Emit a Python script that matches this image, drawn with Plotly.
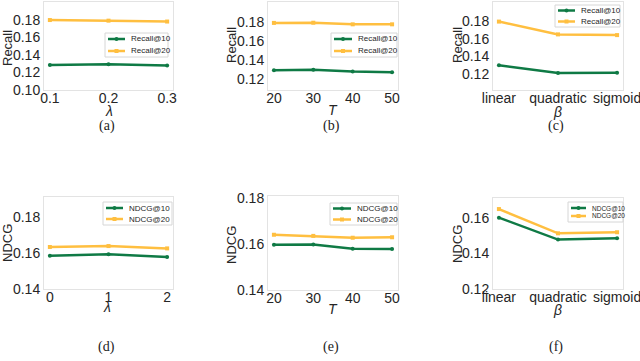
import plotly.graph_objects as go

# data
lam_a = [0.1, 0.2, 0.3]
recall10_a = [0.1285, 0.1292, 0.1277]
recall20_a = [0.1795, 0.1788, 0.1778]

T_vals = [20, 30, 40, 50]
recall10_b = [0.1292, 0.1298, 0.1278, 0.1272]
recall20_b = [0.1790, 0.1792, 0.1775, 0.1775]

beta_cats = ["linear", "quadratic", "sigmoid"]
recall10_c = [0.1300, 0.1212, 0.1215]
recall20_c = [0.1795, 0.1650, 0.1642]

lam_d = [0, 1, 2]
ndcg10_d = [0.1585, 0.1593, 0.1577]
ndcg20_d = [0.1633, 0.1638, 0.1625]

ndcg10_e = [0.1597, 0.1598, 0.1580, 0.1579]
ndcg20_e = [0.1641, 0.1636, 0.1628, 0.1630]

ndcg10_f = [0.1600, 0.1477, 0.1485]
ndcg20_f = [0.1648, 0.1512, 0.1518]

GREEN = "#0f7a45"
ORANGE = "#ffbf40"
W, H = 640, 361

def px_x(p):
    return p / W

def px_y(p):
    return 1 - p / H

# panel boxes in pixels: (x0, x1, ytop, ybottom)
panels = [
    (44, 173, 2, 90), (268, 398, 2, 90), (493, 623, 2, 90),
    (44, 173, 197, 289), (268, 398, 196, 290), (493, 623, 198, 289),
]
yranges = [[0.10, 0.20], [0.1084, 0.201], [0.102, 0.2017],
           [0.14, 0.191], [0.14, 0.181], [0.12, 0.171]]
ytickvals = [[0.10, 0.12, 0.14, 0.16, 0.18], [0.12, 0.14, 0.16, 0.18],
             [0.12, 0.14, 0.16, 0.18], [0.14, 0.16, 0.18],
             [0.14, 0.16, 0.18], [0.12, 0.14, 0.16]]
xranges = [[0.09, 0.31], [18.5, 51.5], [-0.1, 2.1], [-0.1, 2.1], [18.5, 51.5], [-0.1, 2.1]]
xtitles = ["λ", "T", "β", "λ", "T", "β"]
ytitles = ["Recall", "Recall", "Recall", "NDCG", "NDCG", "NDCG"]
captions = ["(a)", "(b)", "(c)", "(d)", "(e)", "(f)"]

series = [
    (lam_a, recall10_a, recall20_a, "Recall@10", "Recall@20"),
    (T_vals, recall10_b, recall20_b, "Recall@10", "Recall@20"),
    ([0, 1, 2], recall10_c, recall20_c, "Recall@10", "Recall@20"),
    (lam_d, ndcg10_d, ndcg20_d, "NDCG@10", "NDCG@20"),
    (T_vals, ndcg10_e, ndcg20_e, "NDCG@10", "NDCG@20"),
    ([0, 1, 2], ndcg10_f, ndcg20_f, "NDCG@10", "NDCG@20"),
]

# title positions in pixels: x title (cx, cy), y title (cx, cy)
xtitle_pos = [(109, 111), (333, 110), (557, 112), (107, 307), (333, 309), (557, 310)]
ytitle_pos = [(7, 48), (231, 45), (457, 45), (7, 243), (232, 245), (457, 244)]

# hand-drawn legend boxes: left, top, width, height, row gap, line length, font
legend_box = [
    (105, 33, 63, 24, 12, 17, 8),
    (331, 33, 66, 24, 12, 18, 8),
    (555, 5, 65, 22, 11, 17, 8),
    (103, 202, 69, 23, 11, 17, 8),
    (330, 203, 67, 22, 11, 18, 8),
    (568, 202, 55, 20, 8, 15, 6.5),
]

fig = go.Figure()
layout = dict(width=W, height=H, margin=dict(l=0, r=0, t=0, b=0),
              paper_bgcolor="white", plot_bgcolor="white", showlegend=False,
              font=dict(family="Liberation Sans, Arial", color="#262626"))
shapes = []
annotations = []

for i, (x, y10, y20, n10, n20) in enumerate(series):
    k = i + 1
    xa = "x" if k == 1 else f"x{k}"
    ya = "y" if k == 1 else f"y{k}"
    fig.add_trace(go.Scatter(x=x, y=y10, name=n10, mode="lines+markers",
                             line=dict(color=GREEN, width=2.5),
                             marker=dict(symbol="circle", size=4, color=GREEN),
                             xaxis=xa, yaxis=ya))
    fig.add_trace(go.Scatter(x=x, y=y20, name=n20, mode="lines+markers",
                             line=dict(color=ORANGE, width=2.5),
                             marker=dict(symbol="square", size=4, color=ORANGE),
                             xaxis=xa, yaxis=ya))

    x0, x1, yt, yb = panels[i]
    xkey = "xaxis" if k == 1 else f"xaxis{k}"
    ykey = "yaxis" if k == 1 else f"yaxis{k}"
    xax = dict(domain=[px_x(x0), px_x(x1)], anchor=ya, range=xranges[i],
               showgrid=False, zeroline=False, showline=True, mirror=True,
               linecolor="#e3e3e3", linewidth=1, ticks="", ticklen=0, automargin=False,
               ticklabelstandoff=-5, ticklabeloverflow="allow",
               tickfont=dict(size=14, color="#262626"))
    if i in (2, 5):
        xax.update(tickvals=[0, 1, 2], ticktext=beta_cats)
    elif i == 0:
        xax.update(tickvals=lam_a, ticktext=["0.1", "0.2", "0.3"])
    elif i == 3:
        xax.update(tickvals=lam_d)
    else:
        xax.update(tickvals=T_vals)
    yax = dict(domain=[px_y(yb), px_y(yt)], anchor=xa, range=yranges[i],
               tickvals=ytickvals[i], tickformat=".2f",
               showgrid=False, zeroline=False, showline=True, mirror=True,
               linecolor="#e3e3e3", linewidth=1, ticks="", ticklen=0, automargin=False,
               tickfont=dict(size=14, color="#262626"))
    layout[xkey] = xax
    layout[ykey] = yax

    # axis titles
    tx, ty = xtitle_pos[i]
    annotations.append(dict(text=f"<i>{xtitles[i]}</i>", x=px_x(tx), y=px_y(ty),
                            xref="paper", yref="paper", showarrow=False,
                            xanchor="center", yanchor="middle",
                            font=dict(size=14, color="#262626")))
    tx, ty = ytitle_pos[i]
    annotations.append(dict(text=ytitles[i], x=px_x(tx), y=px_y(ty), textangle=-90,
                            xref="paper", yref="paper", showarrow=False,
                            xanchor="center", yanchor="middle",
                            font=dict(size=13, color="#262626")))

    # legend
    L, T, bw, bh, gap, ll, fs = legend_box[i]
    shapes.append(dict(type="rect", xref="paper", yref="paper",
                       x0=px_x(L), x1=px_x(L + bw), y0=px_y(T + bh), y1=px_y(T),
                       line=dict(color="#d6d6d6", width=1), fillcolor="white",
                       layer="above"))
    r1 = T + (bh - gap) / 2
    for j, (nm, col) in enumerate([(n10, GREEN), (n20, ORANGE)]):
        ry = r1 + j * gap
        shapes.append(dict(type="line", xref="paper", yref="paper",
                           x0=px_x(L + 3), x1=px_x(L + 3 + ll), y0=px_y(ry), y1=px_y(ry),
                           line=dict(color=col, width=2.5), layer="above"))
        cx = L + 3 + ll / 2
        shapes.append(dict(type="circle" if j == 0 else "rect", xref="paper", yref="paper",
                           x0=px_x(cx - 2), x1=px_x(cx + 2), y0=px_y(ry + 2), y1=px_y(ry - 2),
                           line=dict(color=col, width=0), fillcolor=col, layer="above"))
        annotations.append(dict(text=nm, x=px_x(L + ll + 7), y=px_y(ry),
                                xref="paper", yref="paper", showarrow=False,
                                xanchor="left", yanchor="middle",
                                font=dict(size=fs, color="#262626")))

for i, c in enumerate(captions):
    x0, x1, yt, yb = panels[i]
    cy = 126 if i < 3 else 347
    annotations.append(dict(text=c, x=px_x((x0 + x1) / 2 - 2), y=px_y(cy),
                            xref="paper", yref="paper", showarrow=False,
                            xanchor="center", yanchor="middle",
                            font=dict(family="Liberation Serif, Times New Roman", size=14, color="#222")))
layout["annotations"] = annotations
layout["shapes"] = shapes
fig.update_layout(**layout)

# drop the default 8px body margin so the figure sits at the page corner
fig.write_html("out.html", config={"displayModeBar": False},
               post_script="document.body.style.margin='0';")
